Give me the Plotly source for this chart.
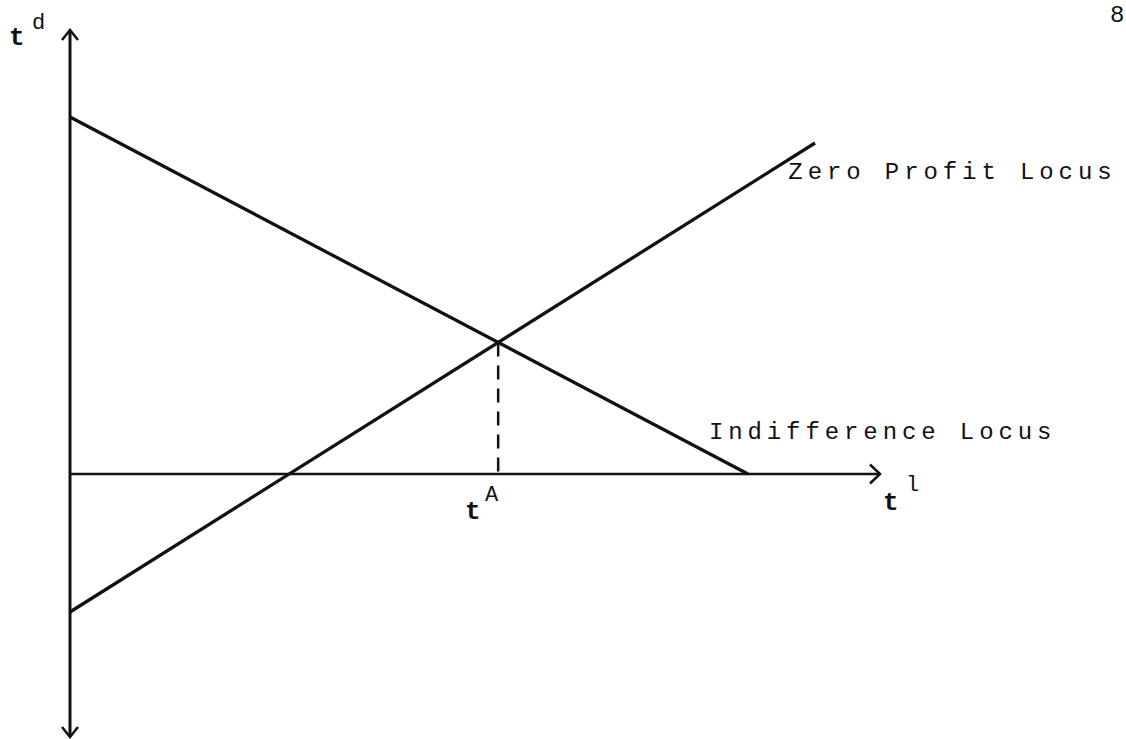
import plotly.graph_objects as go

# Conceptual coordinates: origin at the crossing of the two axes
vaxis_y = [-2.63, 4.44]      # vertical axis (t^d) from bottom to top
haxis_x = [0.0, 8.10]        # horizontal axis (t^l)

# Indifference Locus
indiff_x = [0.0, 6.78]
indiff_y = [3.57, 0.0]

# Zero Profit Locus
zp_x = [0.0, 7.45]
zp_y = [-1.38, 3.31]

labels = ["Zero Profit Locus", "Indifference Locus"]

BLACK = "#111111"
LW = 3.3

# intersection (t^A) derived from the two lines
m1 = (indiff_y[1] - indiff_y[0]) / (indiff_x[1] - indiff_x[0])
m2 = (zp_y[1] - zp_y[0]) / (zp_x[1] - zp_x[0])
xa = (zp_y[0] - indiff_y[0]) / (m1 - m2)
ya = indiff_y[0] + m1 * xa

fig = go.Figure()

def seg(xs, ys, width=LW, dash="solid"):
    fig.add_trace(go.Scatter(x=xs, y=ys, mode="lines",
                             line=dict(color=BLACK, width=width, dash=dash),
                             hoverinfo="skip", showlegend=False))

# axes
seg([0, 0], vaxis_y, width=3)
seg(haxis_x, [0, 0], width=2.7)
# arrowheads (open chevrons)
ah_w, ah_h = 0.08, 0.10
seg([-ah_w, 0, ah_w], [vaxis_y[1] - ah_h, vaxis_y[1], vaxis_y[1] - ah_h], width=2.5)
seg([-ah_w, 0, ah_w], [vaxis_y[0] + ah_h, vaxis_y[0], vaxis_y[0] + ah_h], width=2.5)
seg([haxis_x[1] - 0.10, haxis_x[1], haxis_x[1] - 0.10], [0.095, 0, -0.095], width=2.5)

# loci
seg(indiff_x, indiff_y)
seg(zp_x, zp_y)

# dashed drop line
fig.add_trace(go.Scatter(x=[xa, xa], y=[ya, 0], mode="lines",
                         line=dict(color=BLACK, width=2.5, dash="14px,9px"),
                         hoverinfo="skip", showlegend=False))

FONT = "Liberation Mono"
def txt(x, y, s, size, weight="normal", xanchor="center"):
    fig.add_annotation(x=x, y=y, text=s, showarrow=False, xref="x", yref="y",
                       xanchor=xanchor, yanchor="middle",
                       font=dict(family=FONT, size=size, color=BLACK, weight=weight))

# axis labels
txt(-0.53, 4.36, "t", 26, "bold")
txt(-0.32, 4.51, "d", 22)
txt(8.21, -0.29, "t", 26, "bold")
txt(8.42, -0.11, "l", 22)
txt(xa - 0.25, -0.38, "t", 26, "bold")
txt(xa - 0.06, -0.21, "A", 22)

# locus labels (centred; letter spacing widened to typewriter pitch below)
txt(8.82, 3.02, labels[0], 24)
txt(8.12, 0.42, labels[1], 24)

# page number
txt(10.47, 4.59, "8", 24)

fig.update_layout(
    width=1126, height=739,
    margin=dict(l=0, r=0, t=0, b=0),
    paper_bgcolor="white", plot_bgcolor="white",
    hovermode=False,
    xaxis=dict(range=[-0.70, 10.56], visible=False, fixedrange=True),
    yaxis=dict(range=[-2.65, 4.74], visible=False, fixedrange=True),
)

post = (
    "document.body.style.margin='0';"
    "document.documentElement.style.overflow='hidden';"
    "document.body.style.overflow='hidden';"
    "document.querySelectorAll('.annotation-text').forEach(function(t){"
    "if(t.textContent.indexOf('Locus')>=0){t.style.letterSpacing='4.9px';}});"
)

fig.write_html("out.html", post_script=post, config={"displayModeBar": False})
